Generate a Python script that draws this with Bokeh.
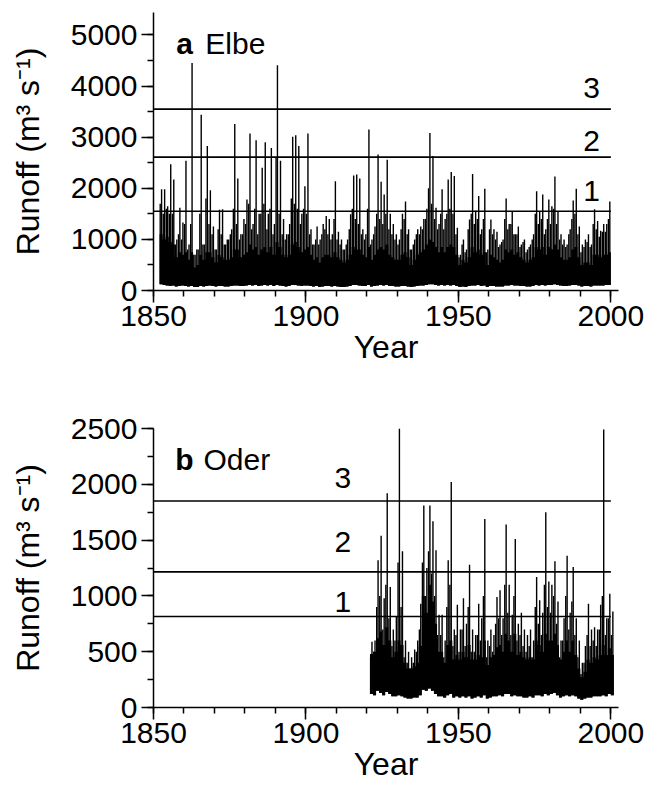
import numpy as np
from bokeh.plotting import figure
from bokeh.layouts import column
from bokeh.models import Range1d, FixedTicker, Label
from bokeh.embed import file_html
from bokeh.resources import INLINE

# ---------------- data ----------------
ELBE_START = 1852
ELBE_PEAK = [
    1980, 1980, 1650, 2470, 2170, 1000, 1620, 1330,
    2540, 900, 4450, 700, 800, 3440, 900, 2830, 1960, 1250,
    800, 1580, 1590, 900, 1000, 1200, 3260, 2190, 1100, 1400,
    1780, 3070, 1300, 2940, 1500, 2400, 2900, 1500, 2790, 1300,
    4410, 2540, 1400, 1100, 1300, 3010, 3040, 2830, 1500, 2040,
    3070, 1200, 900, 1250, 1000, 1300, 1460, 1400, 1100, 2140,
    1150, 1000, 800, 1000, 1490, 2250, 2270, 2190, 1200, 1100,
    3150, 1000, 1250, 2660, 2130, 1880, 2560, 1500, 1300, 1100,
    1000, 1500, 1740, 1200, 800, 1000, 1200, 1250, 1400, 1600,
    3080, 2630, 1620, 1300, 1980, 1400, 2170, 2320, 2240, 1230,
    700, 1000, 800, 1390, 2280, 1560, 1850, 1200, 1990, 800,
    1390, 1200, 1150, 900, 1000, 1800, 1300, 1540, 1100, 1250,
    900, 1000, 800, 900, 1100, 1940, 1540, 1880, 1200, 1780,
    1650, 2230, 1540, 1100, 1000, 900, 1200, 1760, 1990, 1250,
    900, 1000, 1100, 900, 1590, 1360, 1170, 1300, 1300, 1740,
]
ELBE_SECOND = [
    1700, 1500, 1600, 1500, 1500, 900, 1100, 1000,
    1300, 800, 1300, 700, 800, 1500, 900, 1800, 1300, 1100,
    800, 1200, 1100, 900, 1000, 1100, 1600, 1300, 1000, 1100,
    1300, 1700, 1200, 1600, 1100, 1500, 1700, 1200, 1600, 1100,
    2600, 1500, 1100, 1000, 1100, 1800, 1700, 1600, 1300, 1600,
    1500, 1100, 900, 1000, 900, 1100, 1200, 1100, 1000, 1400,
    1000, 900, 800, 900, 1200, 1600, 1400, 1300, 1100, 1000,
    1600, 900, 1100, 1500, 1400, 1300, 1500, 1200, 1100, 1000,
    900, 1200, 1400, 1100, 800, 900, 1100, 1100, 1200, 1400,
    2000, 1700, 1400, 1200, 1500, 1200, 1500, 1600, 1500, 1100,
    650, 900, 750, 1200, 1500, 1300, 1400, 1100, 1400, 750,
    1200, 1100, 1000, 850, 950, 1400, 1200, 1300, 1100, 1100,
    850, 950, 750, 850, 1000, 1500, 1300, 1400, 1100, 1400,
    1300, 1600, 1300, 1000, 900, 850, 1100, 1400, 1500, 1100,
    750, 850, 950, 850, 1300, 1200, 1050, 1150, 1150, 1400,
]
ELBE_MASS = [
    1100, 1000, 1050, 950, 900, 650, 750, 700,
    750, 600, 750, 450, 500, 700, 600, 750, 750, 650,
    550, 700, 650, 600, 600, 650, 800, 800, 650, 700,
    750, 900, 800, 850, 700, 800, 850, 750, 850, 700,
    950, 850, 700, 650, 700, 900, 950, 850, 750, 800,
    850, 700, 600, 650, 550, 650, 700, 700, 650, 750,
    650, 600, 550, 600, 700, 850, 800, 800, 700, 650,
    850, 600, 700, 800, 850, 800, 900, 700, 650, 600,
    600, 700, 750, 650, 500, 600, 700, 750, 800, 900,
    1000, 950, 850, 750, 850, 750, 850, 900, 850, 700,
    500, 600, 550, 650, 850, 750, 800, 700, 750, 500,
    700, 650, 600, 550, 600, 800, 750, 800, 700, 750,
    650, 600, 550, 600, 650, 850, 800, 850, 700, 850,
    800, 900, 800, 650, 600, 600, 650, 800, 850, 650,
    500, 550, 550, 500, 700, 700, 650, 700, 700, 750,
]
ELBE_LOW = [
    120, 110, 100, 90, 100, 80, 90, 100,
    90, 80, 90, 70, 70, 90, 80, 90, 100, 90,
    80, 90, 90, 80, 80, 90, 100, 100, 90, 90,
    100, 110, 100, 110, 90, 100, 110, 100, 110, 90,
    110, 100, 90, 80, 90, 110, 110, 100, 90, 100,
    100, 90, 80, 90, 70, 80, 90, 90, 80, 90,
    80, 70, 70, 80, 90, 110, 110, 100, 90, 90,
    110, 80, 90, 100, 110, 100, 110, 90, 90, 80,
    80, 90, 90, 80, 70, 80, 90, 100, 100, 110,
    120, 120, 110, 100, 110, 100, 110, 100, 110, 90,
    70, 80, 70, 90, 100, 100, 110, 90, 100, 70,
    90, 90, 80, 80, 80, 100, 100, 110, 100, 100,
    90, 90, 80, 80, 90, 110, 100, 110, 100, 110,
    110, 120, 110, 100, 90, 90, 100, 110, 110, 100,
    80, 90, 90, 80, 100, 100, 100, 100, 110, 110,
]
ELBE_LEVELS = [1550, 2610, 3550]
ELBE_LEVEL_NAMES = ["1", "2", "3"]

ODER_START = 1921
ODER_PEAK = [
    590, 600, 1320, 1540, 980, 1920, 1080, 700, 820,
    2500, 1400, 600, 500, 450, 520, 600, 930, 1810, 1250,
    1810, 1670, 1410, 830, 830, 600, 1320, 2020, 700, 920,
    700, 980, 750, 1280, 700, 650, 930, 800, 1690, 600,
    700, 650, 990, 1050, 800, 1640, 1100, 830, 1510, 750,
    850, 700, 650, 700, 600, 1170, 960, 850, 1750, 1130,
    1100, 1310, 950, 600, 800, 1360, 850, 1260, 800, 600,
    400, 550, 930, 700, 720, 700, 920, 2490, 800, 1020,
    860,
]
ODER_SECOND = [
    450, 500, 900, 1000, 700, 1100, 800, 550, 600,
    1300, 900, 450, 400, 350, 400, 500, 700, 1300, 1000,
    1400, 1200, 1000, 650, 650, 450, 900, 1100, 550, 650,
    500, 700, 550, 900, 500, 500, 650, 600, 1000, 450,
    550, 500, 750, 800, 650, 1100, 850, 650, 1000, 600,
    650, 550, 500, 550, 450, 900, 750, 650, 1100, 900,
    850, 1000, 750, 450, 600, 1000, 700, 950, 650, 450,
    300, 400, 650, 550, 600, 550, 700, 1000, 650, 800,
    650,
]
ODER_MASS = [
    480, 500, 620, 680, 560, 720, 600, 450, 500,
    600, 560, 400, 350, 350, 370, 400, 550, 1000, 850,
    1100, 950, 750, 500, 500, 400, 560, 600, 430, 470,
    430, 500, 450, 560, 430, 430, 470, 450, 600, 380,
    450, 470, 540, 560, 500, 660, 600, 500, 660, 470,
    500, 450, 430, 450, 430, 600, 560, 500, 660, 600,
    600, 660, 560, 430, 500, 600, 500, 600, 470, 350,
    270, 320, 430, 400, 450, 430, 470, 560, 470, 530,
    470,
]
ODER_LOW = [
    120, 110, 150, 130, 110, 140, 120, 100, 100,
    110, 100, 90, 80, 80, 90, 90, 110, 160, 150,
    170, 150, 120, 100, 100, 90, 110, 120, 90, 100,
    90, 100, 90, 100, 80, 90, 100, 90, 110, 80,
    90, 100, 100, 110, 100, 120, 120, 100, 110, 100,
    100, 90, 90, 100, 90, 110, 110, 100, 120, 110,
    120, 130, 110, 90, 100, 110, 100, 110, 100, 80,
    70, 80, 90, 90, 100, 100, 100, 110, 100, 120,
    110,
]
ODER_LEVELS = [815, 1215, 1850]
ODER_LEVEL_NAMES = ["1", "2", "3"]

YEAR_TICKS = [1850, 1900, 1950, 2000]
YEAR_MINOR = list(range(1850, 2001, 10))
ELBE_TICKS = [0, 1000, 2000, 3000, 4000, 5000]
ELBE_MINOR = list(range(0, 5001, 500))
ODER_TICKS = [0, 500, 1000, 1500, 2000, 2500]
ODER_MINOR = list(range(0, 2501, 250))
LEVEL_LINE_YEARS = (1850, 2000)

FONT = "Liberation Sans"


def panel(height, top, bottom, ymax, yticks, yminor,
          start, peak, second, mass, low, levels, names,
          name_x, name_y, letter, river, label_y):
    p = figure(width=648, height=height, output_backend="svg",
               toolbar_location=None,
               x_range=Range1d(1850, 2002.5), y_range=Range1d(0, ymax),
               min_border_left=153, min_border_right=30,
               min_border_top=top, min_border_bottom=bottom)
    p.outline_line_color = None
    p.grid.visible = False
    p.background_fill_color = "white"

    years = np.arange(start, start + len(peak))
    # dense part of each year: one continuous step-shaped area (no seams)
    xs = np.column_stack([years, years + 1]).ravel()
    lo = np.repeat(np.asarray(low), 2)
    hi = np.repeat(np.asarray(mass), 2)
    p.varea(x=xs, y1=lo, y2=hi, fill_color="black")
    p.segment(x0=years + 0.2, y0=low, x1=years + 0.2, y1=second,
              line_color="black", line_width=1.4)
    p.segment(x0=years + 0.65, y0=low, x1=years + 0.65, y1=peak,
              line_color="black", line_width=1.4)

    for lv in levels:
        p.segment(x0=[LEVEL_LINE_YEARS[0]], y0=[lv],
                  x1=[LEVEL_LINE_YEARS[1]], y1=[lv],
                  line_color="black", line_width=1.6)
    for nm, ny in zip(names, name_y):
        p.add_layout(Label(x=name_x, y=ny, text=nm, text_font=FONT,
                           text_font_size="30px", text_align="center",
                           text_baseline="alphabetic", text_color="black"))
    p.add_layout(Label(x=letter[0], y=label_y, text=letter[1], text_font=FONT,
                       text_font_size="30px", text_font_style="bold",
                       text_baseline="alphabetic", text_color="black"))
    p.add_layout(Label(x=river[0], y=label_y, text=river[1], text_font=FONT,
                       text_font_size="30px",
                       text_baseline="alphabetic", text_color="black"))

    p.xaxis.ticker = FixedTicker(ticks=YEAR_TICKS, minor_ticks=YEAR_MINOR)
    p.yaxis.ticker = FixedTicker(ticks=yticks, minor_ticks=yminor)
    p.xaxis.axis_label = "Year"
    p.yaxis.axis_label = "Runoff (m³ s⁻¹)"
    for ax in (p.xaxis, p.yaxis):
        ax.axis_line_width = 1.5
        ax.axis_line_color = "black"
        ax.major_tick_line_width = 1.5
        ax.minor_tick_line_width = 1.5
        ax.major_tick_line_color = "black"
        ax.minor_tick_line_color = "black"
        ax.major_tick_out = 12
        ax.major_tick_in = 0
        ax.minor_tick_out = 6
        ax.minor_tick_in = 0
        ax.major_label_text_font = FONT
        ax.major_label_text_font_size = "30px"
        ax.major_label_text_color = "black"
        ax.axis_label_text_font = FONT
        ax.axis_label_text_font_size = "32px"
        ax.axis_label_text_font_style = "normal"
        ax.axis_label_text_color = "black"
    p.xaxis.major_label_standoff = 3
    p.xaxis.axis_label_standoff = 0
    p.yaxis.major_label_standoff = 4
    p.yaxis.axis_label_standoff = 22
    return p


# label heights are listed top to bottom: "3", "2", "1"
pa = panel(385, 12, 95, 5440, ELBE_TICKS, ELBE_MINOR,
           ELBE_START, ELBE_PEAK, ELBE_SECOND, ELBE_MASS, ELBE_LOW,
           ELBE_LEVELS, ELBE_LEVEL_NAMES[::-1], 1993.7, [3971, 2930, 1953],
           (1857.5, "a"), (1867.0, "Elbe"), 4838)
pb = panel(408, 43, 86, 2500, ODER_TICKS, ODER_MINOR,
           ODER_START, ODER_PEAK, ODER_SECOND, ODER_MASS, ODER_LOW,
           ODER_LEVELS, ODER_LEVEL_NAMES[::-1], 1912.1, [2052, 1484, 946],
           (1857.1, "b"), (1866.4, "Oder"), 2222)

layout = column(pa, pb, spacing=0)
open("out.html", "w").write(file_html(layout, INLINE))
